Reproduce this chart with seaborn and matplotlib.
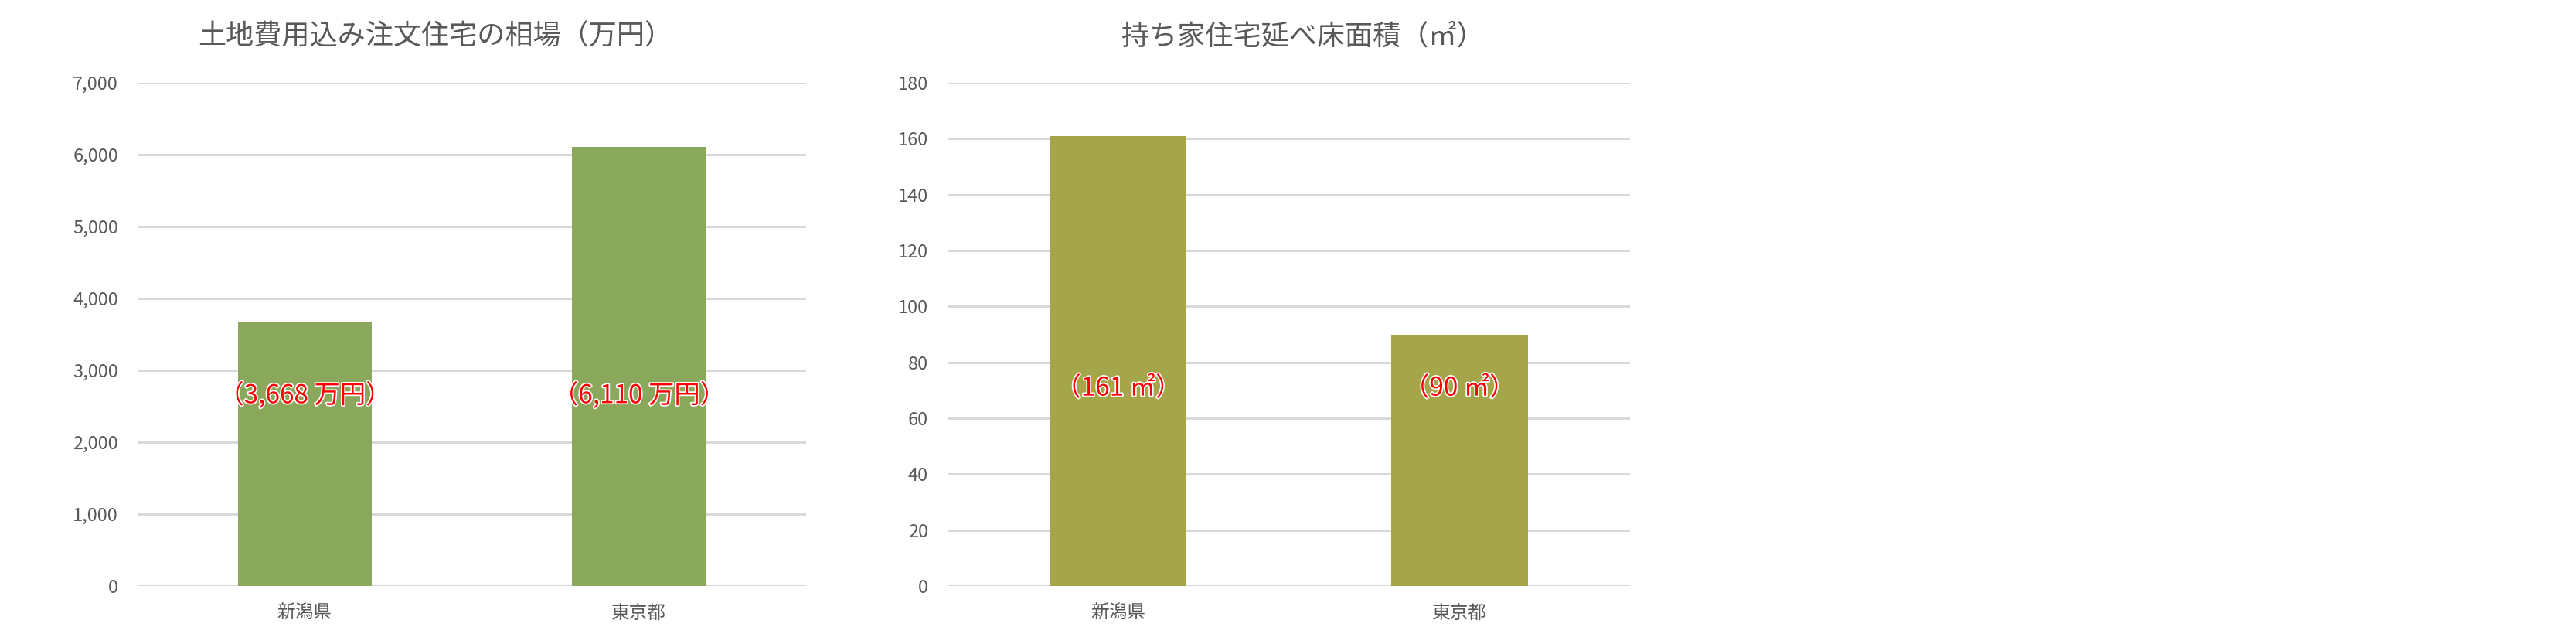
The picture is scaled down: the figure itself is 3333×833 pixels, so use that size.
import matplotlib
matplotlib.use("Agg")
import matplotlib.pyplot as plt
import matplotlib.patheffects as pe
import matplotlib.transforms as mtransforms
from matplotlib.ticker import FuncFormatter
import seaborn as sns
import pandas as pd

# ---- data ----
categories = ["新潟県", "東京都"]
cost_values = [3668, 6110]          # 万円
area_values = [161, 90]             # ㎡
cost_labels = ["（3,668 万円）", "（6,110 万円）"]
area_labels = ["（161 ㎡）", "（90 ㎡）"]
cost_title = "土地費用込み注文住宅の相場（万円）"
area_title = "持ち家住宅延べ床面積（㎡）"
cost_ticks = [0, 1000, 2000, 3000, 4000, 5000, 6000, 7000]
area_ticks = [0, 20, 40, 60, 80, 100, 120, 140, 160, 180]

sns.set_theme(style="white")
plt.rcParams['font.family'] = ['Noto Sans CJK JP', 'DejaVu Sans']

W, H = 3333, 833
fig = plt.figure(figsize=(W / 100, H / 100), dpi=100)

def px_axes(x0, x1, y_top, y_bot):
    return fig.add_axes([x0 / W, (H - y_bot) / H, (x1 - x0) / W, (y_bot - y_top) / H])

ax1 = px_axes(178, 1043, 107, 758)
ax2 = px_axes(1226, 2109, 107, 758)

df1 = pd.DataFrame({"cat": categories, "val": cost_values})
df2 = pd.DataFrame({"cat": categories, "val": area_values})

sns.barplot(data=df1, x="cat", y="val", ax=ax1, color="#8AA85C", width=0.4,
            saturation=1, edgecolor="none")
sns.barplot(data=df2, x="cat", y="val", ax=ax2, color="#A5A54A", width=0.4,
            saturation=1, edgecolor="none")

grey = "#595959"
for ax, ticks, title, tx, labels, ly, fmt in [
    (ax1, cost_ticks, cost_title, 0.445, cost_labels, 0.378, lambda v, p: f"{int(v):,}"),
    (ax2, area_ticks, area_title, 0.521, area_labels, 0.393, lambda v, p: f"{int(v)}"),
]:
    ax.set_xlim(-0.5, 1.5)
    ax.set_ylim(ticks[0], ticks[-1])
    ax.set_yticks(ticks)
    ax.yaxis.set_major_formatter(FuncFormatter(fmt))
    ax.set_xlabel("")
    ax.set_ylabel("")
    for s in ax.spines.values():
        s.set_visible(False)
    ax.yaxis.grid(True, color="#D9D9D9", linewidth=2.2)
    ax.xaxis.grid(False)
    ax.set_axisbelow(True)
    ax.tick_params(axis="y", length=0, pad=18, labelsize=17, labelcolor=grey)
    ax.tick_params(axis="x", length=0, pad=17, labelsize=17, labelcolor=grey)
    ax.text(tx, 1.092, title, transform=ax.transAxes, ha="center", va="center",
            fontsize=26, color=grey)
    trans = mtransforms.blended_transform_factory(ax.transData, ax.transAxes)
    for i, lab in enumerate(labels):
        ax.text(i, ly, lab, transform=trans, ha="center", va="center",
                fontsize=24, color="#FF0000",
                path_effects=[pe.withStroke(linewidth=2.5, foreground="white")])

fig.savefig("out.png", dpi=100, facecolor="white")
